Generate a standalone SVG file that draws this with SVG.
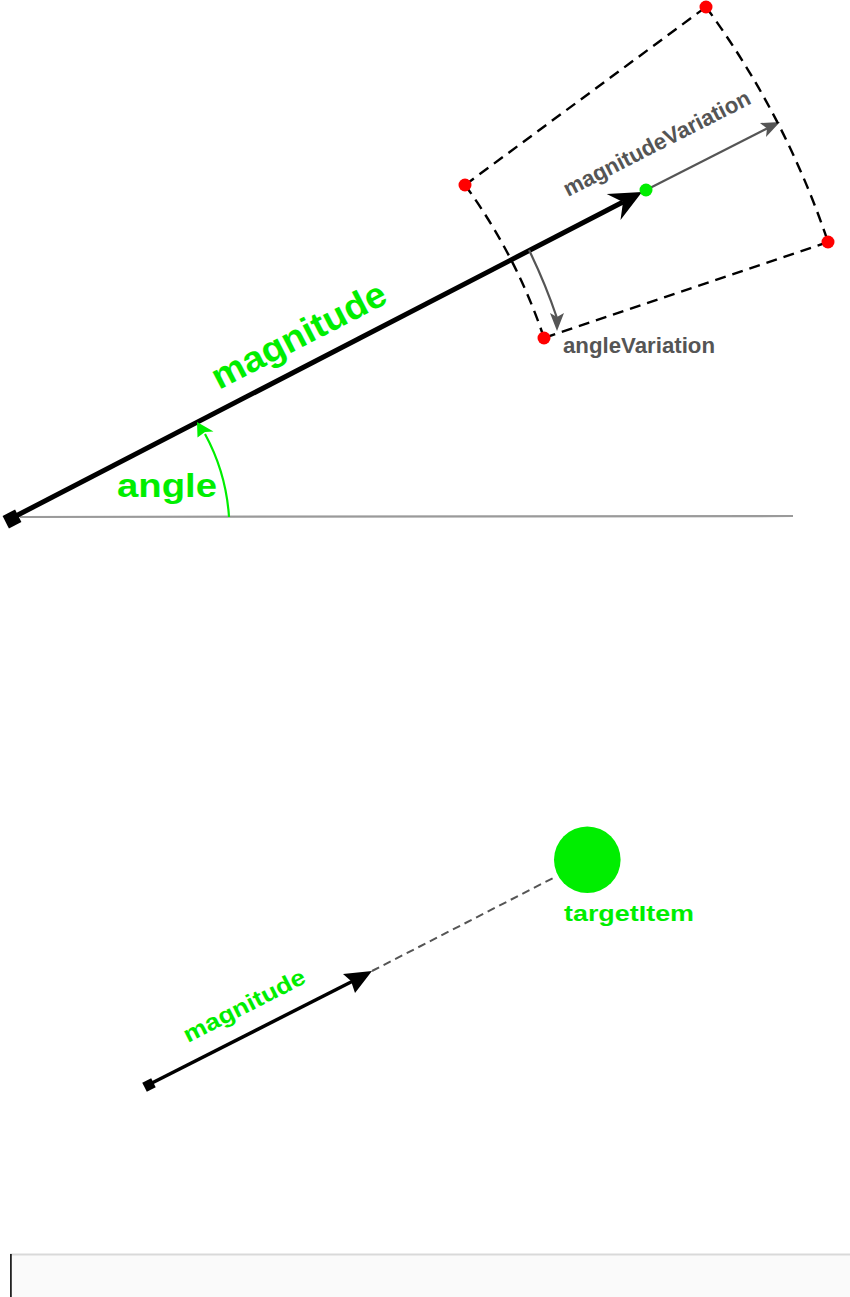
<svg xmlns="http://www.w3.org/2000/svg" width="850" height="1297" viewBox="0 0 850 1297">
<style>
.lbl{font-family:"Liberation Sans",Arial,sans-serif;font-weight:bold}
.green{fill:#00ee00}
.grey{fill:#555555}
.dash{fill:none;stroke:#000;stroke-width:2.4;stroke-dasharray:11 7}
.red{fill:#ff0000}
</style>
<rect width="850" height="1297" fill="#ffffff"/>

<g id="connectors">
  <line x1="20" y1="517" x2="793" y2="516" stroke="#9a9a9a" stroke-width="2.2"/>
  <line x1="12" y1="518" x2="623" y2="202" stroke="#000" stroke-width="5"/>
  <polygon points="642,192 620.5,220 623,202 606.7,193.9" fill="#000"/>
  <path d="M229,517 A200 200 0 0 0 205,434" fill="none" stroke="#00ee00" stroke-width="2.2"/>
  <polygon points="197,422 213.5,431.5 205,432 197.5,437.5" fill="#00ee00"/>
  <line x1="646" y1="190" x2="767" y2="128.5" stroke="#555" stroke-width="2.2"/>
  <polygon points="780,122 766,137 767,128.5 760,123" fill="#555"/>
  <path d="M529,250 A582 582 0 0 1 557,318" fill="none" stroke="#555" stroke-width="2.2"/>
  <polygon points="557,331 550,313 557,317 564,313" fill="#555"/>
  <line class="dash" x1="465" y1="185" x2="706" y2="7"/>
  <path class="dash" d="M706,7 A861 861 0 0 1 828,242"/>
  <line class="dash" x1="828" y1="242" x2="544" y2="338"/>
  <path class="dash" d="M465,185 A561.5 561.5 0 0 1 544,338"/>
  <line x1="148" y1="1085" x2="353" y2="981" stroke="#000" stroke-width="3.5"/>
  <polygon points="372,971 355,993 351,981 343,974" fill="#000"/>
  <line x1="372" y1="971" x2="557" y2="876" stroke="#555" stroke-width="2" stroke-dasharray="8 5"/>
</g>

<g id="origin-top">
  <rect x="-7" y="-7" width="14" height="14" fill="#000" transform="translate(12,519) rotate(-27)"/>
</g>
<g id="label-magnitude">
  <text class="lbl green" font-size="36" textLength="192" lengthAdjust="spacingAndGlyphs" transform="translate(219,390) rotate(-27.3)">magnitude</text>
</g>
<g id="label-angle">
  <text class="lbl green" x="117" y="497" font-size="34" textLength="100" lengthAdjust="spacingAndGlyphs">angle</text>
</g>
<g id="corner-tl"><circle class="red" cx="465" cy="185" r="6.5"/></g>
<g id="corner-t"><circle class="red" cx="706" cy="7" r="6.5"/></g>
<g id="corner-r"><circle class="red" cx="828" cy="242" r="6.5"/></g>
<g id="corner-b"><circle class="red" cx="544" cy="338" r="6.5"/></g>
<g id="end-point"><circle cx="646" cy="190" r="6.5" fill="#00ee00"/></g>
<g id="label-magnitudeVariation">
  <text class="lbl grey" font-size="22.5" textLength="207" lengthAdjust="spacingAndGlyphs" transform="translate(568,197) rotate(-27)">magnitudeVariation</text>
</g>
<g id="label-angleVariation">
  <text class="lbl grey" x="563" y="353" font-size="22" textLength="152" lengthAdjust="spacingAndGlyphs">angleVariation</text>
</g>

<g id="origin-bottom">
  <rect x="-5" y="-5" width="10" height="10" fill="#000" transform="translate(149,1085) rotate(-27)"/>
</g>
<g id="label-magnitude-small">
  <text class="lbl green" font-size="23" textLength="134" lengthAdjust="spacingAndGlyphs" transform="translate(188,1043) rotate(-27)">magnitude</text>
</g>
<g id="target-item">
  <circle cx="587.3" cy="859.7" r="33.3" fill="#00ee00"/>
  <text class="lbl green" x="564" y="921" font-size="22" textLength="130" lengthAdjust="spacingAndGlyphs">targetItem</text>
</g>

<g id="footer-bar">
  <rect x="10" y="1254" width="840" height="43" fill="#fafafa"/>
  <line x1="10" y1="1254.5" x2="850" y2="1254.5" stroke="#d9d9d9" stroke-width="2"/>
  <line x1="10.9" y1="1254" x2="10.9" y2="1297" stroke="#222" stroke-width="1.8"/>
</g>
</svg>
